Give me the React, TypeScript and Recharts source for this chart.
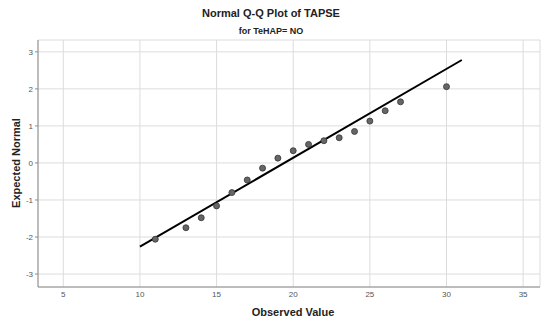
import {
  CartesianGrid,
  Scatter,
  ScatterChart,
  XAxis,
  YAxis,
} from "recharts";

const observed = [11, 13, 14, 15, 16, 17, 18, 19, 20, 21, 22, 23, 24, 25, 26, 27, 30];
const expected = [
  -2.06, -1.75, -1.48, -1.16, -0.8, -0.46, -0.14, 0.13, 0.33, 0.5, 0.6, 0.68, 0.85,
  1.13, 1.41, 1.65, 2.06,
];
const lineX = [10, 31];
const lineY = [-2.26, 2.78];
const xTicks = [5, 10, 15, 20, 25, 30, 35];
const yTicks = [-3, -2, -1, 0, 1, 2, 3];

const points = observed.map((x, i) => ({ x, y: expected[i] }));
const fitLine = lineX.map((x, i) => ({ x, y: lineY[i] }));

const font = "'Liberation Sans', Arial, sans-serif";

// small grey dot like the SPSS marker
const Dot = (props: any) => (
  <circle cx={props.cx} cy={props.cy} r={3} fill="#666" stroke="#333" strokeWidth={0.8} />
);

export default function App() {
  return (
    <div
      style={{
        position: "fixed",
        top: 0,
        left: 0,
        width: 542,
        height: 322,
        background: "#fff",
        fontFamily: font,
      }}
    >
      <div
        style={{
          position: "absolute",
          top: 7,
          width: 542,
          textAlign: "center",
          fontSize: 11,
          fontWeight: "bold",
          color: "#222",
        }}
      >
        Normal Q-Q Plot of TAPSE
      </div>
      <div
        style={{
          position: "absolute",
          top: 26,
          width: 542,
          textAlign: "center",
          fontSize: 9,
          fontWeight: "bold",
          color: "#222",
        }}
      >
        for TeHAP= NO
      </div>
      <div
        style={{
          position: "absolute",
          top: 306,
          left: 38,
          width: 510,
          textAlign: "center",
          fontSize: 11,
          fontWeight: "bold",
          color: "#222",
        }}
      >
        Observed Value
      </div>
      <div
        style={{
          position: "absolute",
          left: 16,
          top: 163,
          transform: "translate(-50%, -50%) rotate(-90deg)",
          whiteSpace: "nowrap",
          fontSize: 11,
          fontWeight: "bold",
          color: "#222",
        }}
      >
        Expected Normal
      </div>
      <ScatterChart
        width={542}
        height={322}
        margin={{ top: 40, right: 2, bottom: 0, left: 0 }}
      >
        <CartesianGrid stroke="#dcdcdc" />
        <XAxis
          type="number"
          dataKey="x"
          domain={[3.35, 36.1]}
          ticks={xTicks}
          allowDataOverflow
          height={35}
          tickLine={false}
          tickSize={0}
          tickMargin={4}
          axisLine={{ stroke: "#8c8c8c" }}
          tick={{ fontSize: 8, fill: "#555", fontFamily: font }}
        />
        <YAxis
          type="number"
          dataKey="y"
          domain={[-3.35, 3.32]}
          ticks={yTicks}
          allowDataOverflow
          width={38}
          tickSize={3}
          tickMargin={2}
          tickLine={{ stroke: "#8c8c8c" }}
          axisLine={{ stroke: "#8c8c8c" }}
          tick={{ fontSize: 8, fill: "#555", fontFamily: font }}
        />
        <Scatter
          data={fitLine}
          line={{ stroke: "#000", strokeWidth: 2 }}
          shape={() => <g />}
          isAnimationActive={false}
        />
        <Scatter data={points} shape={Dot} isAnimationActive={false} />
      </ScatterChart>
    </div>
  );
}
